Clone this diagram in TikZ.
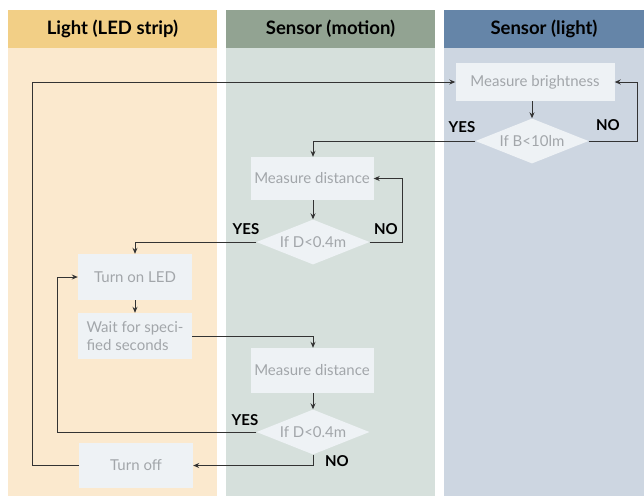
\documentclass[tikz,border=0pt]{standalone}
\usepackage{fontspec}
\setmainfont{Lato}
\usetikzlibrary{positioning, shapes.geometric, arrows.meta}
\definecolor{lighthead}{HTML}{F2CF86}
\definecolor{lightbody}{HTML}{FBE9CE}
\definecolor{motionhead}{HTML}{92A392}
\definecolor{motionbody}{HTML}{D6E0DC}
\definecolor{sensorhead}{HTML}{6585A8}
\definecolor{sensorbody}{HTML}{CDD6E1}
\definecolor{boxfill}{HTML}{EEF2F5}
\definecolor{boxtext}{HTML}{A2A6AA}
\definecolor{wire}{HTML}{333333}

\begin{document}
\begin{tikzpicture}[x=1pt, y=-1pt,
	every node/.style={align=center, inner sep=2pt},
	head/.style={minimum height=38pt, font=\fontsize{18.5}{21}\selectfont\bfseries, text=black},
	proc/.style={fill=boxfill, text=boxtext, minimum width=114pt, minimum height=45pt, font=\fontsize{15}{17.5}\selectfont},
	dec/.style={diamond, fill=boxfill, text=boxtext, aspect=2.5, inner sep=0pt, minimum width=113pt, minimum height=45pt, font=\fontsize{15}{17.5}\selectfont},
	lbl/.style={font=\fontsize{15}{17.5}\selectfont\bfseries, text=black},
	arr/.style={-{Stealth[length=6pt, width=5pt]}, line width=1pt, wire}]
	\useasboundingbox (0,0) rectangle (644,496);
	% Lanes
	\fill[lightbody] (8,48) rectangle (217,496);
	\fill[motionbody] (226,48) rectangle (435,496);
	\fill[sensorbody] (444,48) rectangle (644,496);
	\node[head, fill=lighthead, minimum width=209pt] (headlight) at (112.5,29) {Light (LED strip)};
	\node[head, fill=motionhead, minimum width=209pt] (headmotion) at (330.5,29) {Sensor (motion)};
	\node[head, fill=sensorhead, minimum width=200pt] (headsensor) at (544,29) {Sensor (light)};
	% Sensor (light)
	\node[proc, minimum width=159pt, minimum height=38pt] (brightness) at (535,82) {Measure brightness};
	\node[dec] (checkb) at (532,141) {If B<10lm};
	% Sensor (motion)
	\node[proc, minimum width=123pt, minimum height=43pt] (dist1) at (312,178.5) {Measure distance};
	\node[dec] (checkd1) at (313,242) {If D<0.4m};
	\node[proc, minimum width=123pt, minimum height=45pt] (dist2) at (312,370.5) {Measure distance};
	\node[dec] (checkd2) at (313,432) {If D<0.4m};
	% Light (LED strip)
	\node[proc, minimum height=46pt] (turnon) at (135,277) {Turn on LED};
	\node[proc, minimum height=46pt, align=left] (wait) at (135,336) {Wait for speci-\\fied seconds};
	\node[proc] (turnoff) at (136,465.5) {Turn off};
	% Labels
	\node[lbl] (yesb) at (462,127) {YES};
	\node[lbl] (nob) at (608,125) {NO};
	\node[lbl] (yesd1) at (246,229) {YES};
	\node[lbl] (nod1) at (386,229) {NO};
	\node[lbl] (yesd2) at (245,420) {YES};
	\node[lbl] (nod2) at (337,461) {NO};
	% Arrows sensor (light)
	\draw[arr] (brightness.south -| checkb.north) -- (checkb.north);
	\draw[arr] (checkb.east) -- ++(49,0) |- (brightness.east);
	\draw[arr] (checkb.west) -| (checkd1.north |- dist1.north);
	% Arrows sensor (motion)
	\draw[arr] (dist1.south -| checkd1.north) -- (checkd1.north);
	\draw[arr] (checkd1.east) -- ++(33,0) |- (dist1.east);
	\draw[arr] (checkd1.west) -| (turnon.north);
	\draw[arr] (dist2.south -| checkd2.north) -- (checkd2.north);
	\draw[arr] (checkd2.west) -| ([xshift=-20pt]turnon.west) -- (turnon.west);
	\draw[arr] (checkd2.south) |- (turnoff.east);
	% Arrows light (LED strip)
	\draw[arr] (turnon) -- (wait);
	\draw[arr] (wait.east) -| (checkd2.north |- dist2.north);
	\draw[arr] (turnoff.west) -- ++(-46,0) |- (brightness.west);
\end{tikzpicture}
\end{document}
